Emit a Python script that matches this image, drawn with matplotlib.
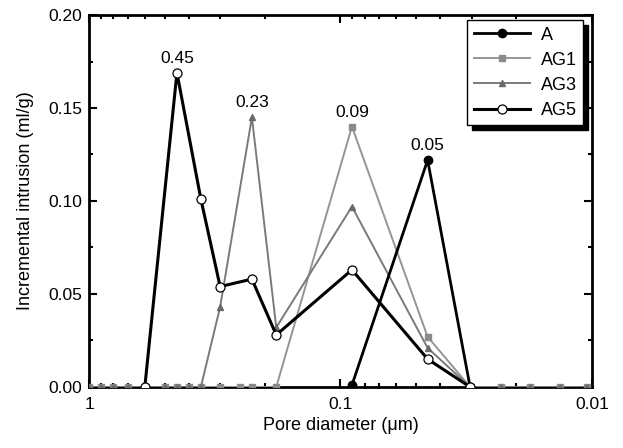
import matplotlib
matplotlib.use("Agg")
import matplotlib.pyplot as plt
from matplotlib.ticker import FixedLocator, NullFormatter, LogLocator

plt.rcParams['font.family'] = ['Liberation Sans', 'DejaVu Sans']

# Pore diameter grid (um)
diam = [1.0, 0.9, 0.8, 0.7, 0.6, 0.5, 0.447, 0.4, 0.359, 0.301, 0.25, 0.225, 0.18,
        0.145, 0.117, 0.09, 0.07, 0.055, 0.045, 0.037, 0.0305, 0.023, 0.0176, 0.0134, 0.0105]
N = None
A_vals   = [N, N, N, N, N, N, N, N, N, N, N, N, N, N, N, 0.001, N, N, 0.122, N, 0, N, N, N, N]
AG1_vals = [0, 0, 0, 0, 0, 0, 0, 0, 0, 0, 0, 0, 0, N, N, 0.140, N, N, 0.027, N, 0, 0, 0, 0, 0]
AG3_vals = [0, 0, 0, 0, 0, 0, 0, 0, 0, 0.043, N, 0.145, 0.032, N, N, 0.097, N, N, 0.021, N, 0, 0, 0, 0, 0]
AG5_vals = [N, N, N, N, 0, N, 0.169, N, 0.101, 0.054, N, 0.058, 0.028, N, N, 0.063, N, N, 0.015, N, 0, N, N, N, N]

labels = ["A", "AG1", "AG3", "AG5"]
peak_labels = ["0.45", "0.23", "0.09", "0.05"]
peak_x = [0.447, 0.225, 0.09, 0.045]
peak_y = [0.169, 0.145, 0.140, 0.122]


def pts(vals):
    xs = [d for d, v in zip(diam, vals) if v is not None]
    ys = [v for v in vals if v is not None]
    return xs, ys


fig = plt.figure(figsize=(6.23, 4.48), dpi=100)
ax = fig.add_axes([0.1429, 0.1362, 0.8071, 0.8303])

styles = [
    dict(color='black', lw=2.0, marker='o', ms=6, mfc='black', mec='black', zorder=5),
    dict(color='#959595', lw=1.4, marker='s', ms=4.5, mfc='#8a8a8a', mec='#8a8a8a', zorder=3),
    dict(color='#7a7a7a', lw=1.4, marker='^', ms=5, mfc='#6a6a6a', mec='#6a6a6a', zorder=4),
    dict(color='black', lw=2.2, marker='o', ms=6.5, mfc='white', mec='black', mew=0.9, zorder=6),
]
for vals, lab, st in zip([A_vals, AG1_vals, AG3_vals, AG5_vals], labels, styles):
    xs, ys = pts(vals)
    ax.plot(xs, ys, label=lab, **st)

for t, x, y in zip(peak_labels, peak_x, peak_y):
    ax.annotate(t, (x, y), xytext=(0, 5), textcoords='offset points',
                ha='center', va='bottom', fontsize=12.5)

ax.set_xscale('log')
ax.set_xlim(1, 0.01)
ax.set_ylim(0, 0.20)
ax.set_yticks([0.00, 0.05, 0.10, 0.15, 0.20])
ax.set_yticklabels(["0.00", "0.05", "0.10", "0.15", "0.20"])
ax.yaxis.set_minor_locator(FixedLocator([0.025, 0.075, 0.125, 0.175]))
ax.set_xticks([1, 0.1, 0.01])
ax.set_xticklabels(["1", "0.1", "0.01"])
ax.xaxis.set_minor_locator(LogLocator(base=10, subs=range(2, 10)))
ax.xaxis.set_minor_formatter(NullFormatter())

ax.tick_params(which='both', direction='in', top=True, right=True, labelsize=12.5, width=1.5)
ax.tick_params(which='major', length=6)
ax.tick_params(which='minor', length=3)
ax.tick_params(axis='x', pad=7)
ax.tick_params(axis='y', pad=5)
for s in ax.spines.values():
    s.set_linewidth(2.0)

ax.set_xlabel("Pore diameter (\u03bcm)", fontsize=13, labelpad=4)
ax.set_ylabel("Incremental intrusion (ml/g)", fontsize=13, labelpad=10)

leg = ax.legend(loc='upper right', fontsize=13, frameon=True, fancybox=False,
                edgecolor='black', handlelength=3.1, handletextpad=0.6,
                borderpad=0.35, labelspacing=0.45, borderaxespad=0,
                shadow={'color': 'black', 'alpha': 1, 'ox': 3.5, 'oy': -3.5},
                bbox_to_anchor=(0.982, 0.986))
leg.get_frame().set_linewidth(1.0)

fig.savefig("out.png", dpi=100)
